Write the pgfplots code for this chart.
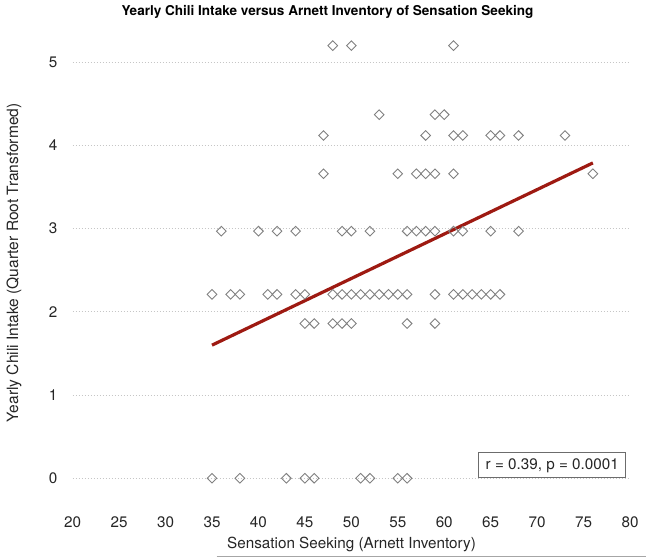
\documentclass[border=0pt]{standalone}
\usepackage{fontspec}
\setmainfont{TeX Gyre Heros}
\usepackage{pgfplots}
\pgfplotsset{compat=1.18}
\definecolor{fitred}{HTML}{9E1A12}
\definecolor{mkgray}{HTML}{808080}
\definecolor{txt}{HTML}{262626}
\newcommand{\lbl}{\fontsize{15.3}{18}\selectfont}

\begin{document}
\begin{tikzpicture}
\begin{axis}[
    scale only axis,
    width=557.3bp, height=457.6bp,
    xmin=20, xmax=80, ymin=-0.2, ymax=5.3,
    axis line style={draw=none},
    tick style={draw=none},
    xtick={20,25,...,80}, ytick={0,1,...,5},
    ymajorgrids,
    grid style={gray!45, line width=0.8bp, dash pattern=on 1bp off 2bp},
    clip=false,
    /pgf/number format/assume math mode=true,
    ticklabel style={font=\lbl, text=txt},
    xticklabel style={anchor=center, yshift=-27.6bp},
    yticklabel style={anchor=center, xshift=-19.7bp},
]
% data: quarter-root chili intake vs sensation seeking
\addplot[only marks, mark=square, mark size=3.4bp,
    mark options={rotate=45, draw=mkgray, line width=0.9bp, fill=none}]
coordinates {
(48,5.2) (50,5.2) (61,5.2)
(53,4.37) (59,4.37) (60,4.37)
(47,4.12) (58,4.12) (61,4.12) (62,4.12) (65,4.12) (66,4.12) (68,4.12) (73,4.12)
(47,3.66) (55,3.66) (57,3.66) (58,3.66) (59,3.66) (61,3.66) (76,3.66)
(36,2.97) (40,2.97) (42,2.97) (44,2.97) (49,2.97) (50,2.97) (52,2.97) (56,2.97)
(57,2.97) (58,2.97) (59,2.97) (61,2.97) (62,2.97) (65,2.97) (68,2.97)
(35,2.21) (37,2.21) (38,2.21) (41,2.21) (42,2.21) (44,2.21) (45,2.21) (48,2.21)
(49,2.21) (50,2.21) (51,2.21) (52,2.21) (53,2.21) (54,2.21) (55,2.21) (56,2.21)
(59,2.21) (61,2.21) (62,2.21) (63,2.21) (64,2.21) (65,2.21) (66,2.21)
(45,1.86) (46,1.86) (48,1.86) (49,1.86) (50,1.86) (56,1.86) (59,1.86)
(35,0) (38,0) (43,0) (45,0) (46,0) (51,0) (52,0) (55,0) (56,0)
};
% fitted line
\addplot[fitred, line width=3.2bp] coordinates {(35,1.60) (76,3.79)};

\node[font=\fontsize{13.6}{16}\selectfont\bfseries, text=black] at (axis cs:47.43,5.605)
    {Yearly Chili Intake versus Arnett Inventory of Sensation Seeking};
\node[font=\lbl, text=txt] at (axis cs:50.02,-0.792) {Sensation Seeking (Arnett Inventory)};
\node[font=\fontsize{15.6}{18}\selectfont, text=txt, rotate=90] at (axis cs:13.68,2.59)
    {Yearly Chili Intake (Quarter Root Transformed)};
\node[font=\lbl, text=txt, draw=gray!85!black, line width=0.9bp, fill=white,
    minimum width=147bp, minimum height=24.7bp, inner sep=0pt]
    at (axis cs:71.63,0.156) {r = 0.39, p = 0.0001};
\draw[gray!70, line width=0.8bp] (axis cs:35.5,-0.942) -- (axis cs:81.72,-0.942);
\end{axis}
\pgfresetboundingbox
\path (current axis.south west) ++(-72.7bp,-64.1bp) coordinate (bl);
\path (current axis.north east) ++(16bp,37.3bp) coordinate (tr);
\path[use as bounding box] (bl) rectangle (tr);
\end{tikzpicture}
\end{document}
